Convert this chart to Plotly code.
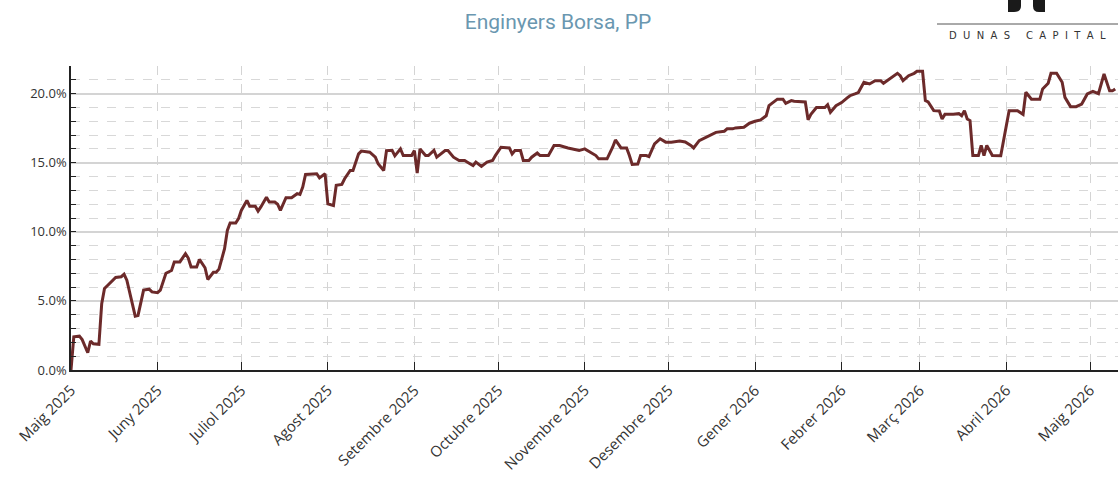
import plotly.graph_objects as go

dates = [
    "2025-05-01", "2025-05-02", "2025-05-04", "2025-05-05", "2025-05-07", "2025-05-08", "2025-05-09",
    "2025-05-11", "2025-05-12", "2025-05-13", "2025-05-14", "2025-05-17", "2025-05-19", "2025-05-20",
    "2025-05-21", "2025-05-23", "2025-05-24", "2025-05-25", "2025-05-27", "2025-05-29", "2025-05-30",
    "2025-06-01", "2025-06-02", "2025-06-04", "2025-06-06", "2025-06-07", "2025-06-09", "2025-06-11",
    "2025-06-12", "2025-06-13", "2025-06-15", "2025-06-16", "2025-06-18", "2025-06-19", "2025-06-21",
    "2025-06-22", "2025-06-23", "2025-06-25", "2025-06-26", "2025-06-27", "2025-06-29", "2025-06-30",
    "2025-07-01", "2025-07-03", "2025-07-04", "2025-07-06", "2025-07-07", "2025-07-08", "2025-07-10",
    "2025-07-11", "2025-07-13", "2025-07-14", "2025-07-15", "2025-07-17", "2025-07-19", "2025-07-21",
    "2025-07-22", "2025-07-23", "2025-07-24", "2025-07-28", "2025-07-29", "2025-07-31",
    "2025-08-01", "2025-08-03", "2025-08-04", "2025-08-06", "2025-08-07", "2025-08-09", "2025-08-10",
    "2025-08-12", "2025-08-13", "2025-08-16", "2025-08-18", "2025-08-19", "2025-08-21", "2025-08-22",
    "2025-08-24", "2025-08-25", "2025-08-27", "2025-08-28", "2025-08-31",
    "2025-09-01", "2025-09-02", "2025-09-03", "2025-09-05", "2025-09-06", "2025-09-08", "2025-09-09",
    "2025-09-12", "2025-09-13", "2025-09-15", "2025-09-17", "2025-09-19", "2025-09-20", "2025-09-22",
    "2025-09-23", "2025-09-25", "2025-09-27", "2025-09-29", "2025-09-30",
    "2025-10-02", "2025-10-05", "2025-10-06", "2025-10-07", "2025-10-09", "2025-10-10", "2025-10-12",
    "2025-10-13", "2025-10-15", "2025-10-16", "2025-10-19", "2025-10-21", "2025-10-23", "2025-10-26",
    "2025-10-28", "2025-10-30",
    "2025-11-01", "2025-11-03", "2025-11-05", "2025-11-06", "2025-11-09", "2025-11-11", "2025-11-12",
    "2025-11-14", "2025-11-16", "2025-11-17", "2025-11-18", "2025-11-20", "2025-11-21", "2025-11-23",
    "2025-11-24", "2025-11-26", "2025-11-28", "2025-11-30",
    "2025-12-02", "2025-12-05", "2025-12-07", "2025-12-09", "2025-12-10", "2025-12-12", "2025-12-14",
    "2025-12-16", "2025-12-18", "2025-12-21", "2025-12-22", "2025-12-24", "2025-12-25", "2025-12-28",
    "2025-12-30",
    "2026-01-01", "2026-01-03", "2026-01-05", "2026-01-06", "2026-01-09", "2026-01-11", "2026-01-12",
    "2026-01-14", "2026-01-15", "2026-01-18", "2026-01-19", "2026-01-20", "2026-01-21", "2026-01-23",
    "2026-01-26", "2026-01-27", "2026-01-28", "2026-01-30", "2026-01-31",
    "2026-02-01", "2026-02-03", "2026-02-04", "2026-02-06", "2026-02-07", "2026-02-09", "2026-02-11",
    "2026-02-13", "2026-02-15", "2026-02-16", "2026-02-18", "2026-02-21", "2026-02-22", "2026-02-23",
    "2026-02-25", "2026-02-27", "2026-02-28",
    "2026-03-02", "2026-03-03", "2026-03-04", "2026-03-06", "2026-03-08", "2026-03-09", "2026-03-10",
    "2026-03-13", "2026-03-15", "2026-03-16", "2026-03-17", "2026-03-18", "2026-03-19", "2026-03-20",
    "2026-03-22", "2026-03-23", "2026-03-24", "2026-03-25", "2026-03-27", "2026-03-30", "2026-03-31",
    "2026-04-02", "2026-04-05", "2026-04-07", "2026-04-08", "2026-04-10", "2026-04-13", "2026-04-14",
    "2026-04-16", "2026-04-17", "2026-04-19", "2026-04-21", "2026-04-22", "2026-04-24", "2026-04-26",
    "2026-04-28", "2026-04-30",
    "2026-05-02", "2026-05-04", "2026-05-06", "2026-05-08", "2026-05-09", "2026-05-10",
]

returns_pct = [
    0.0, 2.4, 2.45, 2.2, 1.25, 2.1, 1.9,
    1.85, 4.8, 5.9, 6.1, 6.7, 6.75, 6.93,
    6.5, 4.8, 3.9, 3.95, 5.78, 5.85, 5.65,
    5.6, 5.78, 7.0, 7.2, 7.82, 7.82, 8.42,
    8.1, 7.46, 7.46, 8.0, 7.4, 6.55, 7.07,
    7.07, 7.3, 8.78, 10.1, 10.64, 10.64, 10.95,
    11.55, 12.27, 11.85, 11.85, 11.5, 11.8, 12.5,
    12.15, 12.15, 12.0, 11.55, 12.47, 12.47, 12.76,
    12.7, 13.24, 14.15, 14.2, 13.9, 14.2,
    12.03, 11.9, 13.36, 13.43, 13.84, 14.44, 14.44,
    15.64, 15.84, 15.76, 15.4, 14.92, 14.44, 15.88,
    15.9, 15.5, 16.0, 15.52, 15.52,
    15.88, 14.25, 16.0, 15.52, 15.52, 15.9, 15.4,
    15.88, 15.88, 15.4, 15.16, 15.16, 15.04, 14.8,
    15.04, 14.73, 15.04, 15.16, 15.52,
    16.12, 16.07, 15.64, 15.88, 15.88, 15.16, 15.16,
    15.4, 15.7, 15.52, 15.52, 16.25, 16.25, 16.07,
    16.0, 15.88,
    16.0, 15.78, 15.52, 15.28, 15.28, 16.12, 16.65,
    16.07, 16.07, 15.52, 14.87, 14.9, 15.52, 15.52,
    15.45, 16.37, 16.73, 16.49,
    16.49, 16.57, 16.5, 16.25, 16.07, 16.6, 16.8,
    16.97, 17.2, 17.28, 17.45, 17.45, 17.52, 17.57,
    17.86,
    18.0, 18.1, 18.4, 19.13, 19.6, 19.6, 19.3,
    19.5, 19.45, 19.4, 19.4, 18.1, 18.5, 19.0,
    19.0, 19.2, 18.65, 19.13, 19.25,
    19.35, 19.69, 19.85, 20.0, 20.08, 20.82, 20.7,
    20.94, 20.94, 20.75, 21.06, 21.47, 21.3, 20.94,
    21.3, 21.47, 21.62,
    21.62, 19.5, 19.4, 18.77, 18.75, 18.17, 18.5,
    18.5, 18.55, 18.4, 18.77, 18.17, 18.05, 15.52,
    15.52, 16.25, 15.52, 16.25, 15.52, 15.5, 16.6,
    18.77, 18.77, 18.5, 20.1, 19.6, 19.6, 20.34,
    20.75, 21.47, 21.47, 20.82, 19.73, 19.06, 19.06,
    19.25, 19.98,
    20.17, 20.0, 21.42, 20.2, 20.2, 20.34,
]

month_ticks = [
    "2025-05-01", "2025-06-01", "2025-07-01", "2025-08-01", "2025-09-01", "2025-10-01",
    "2025-11-01", "2025-12-01", "2026-01-01", "2026-02-01", "2026-03-01", "2026-04-01", "2026-05-01",
]
month_labels = [
    "Maig 2025", "Juny 2025", "Juliol 2025", "Agost 2025", "Setembre 2025", "Octubre 2025",
    "Novembre 2025", "Desembre 2025", "Gener 2026", "Febrer 2026", "Març 2026", "Abril 2026", "Maig 2026",
]

title_text = "Enginyers Borsa, PP"

fig = go.Figure()
fig.add_trace(go.Scatter(
    x=dates, y=returns_pct, mode="lines",
    line=dict(color="#6c2a2a", width=3),
    hoverinfo="skip", showlegend=False,
))

fig.update_layout(
    width=1118, height=479,
    margin=dict(l=71, r=0, t=66, b=109),
    paper_bgcolor="white", plot_bgcolor="white",
    title=dict(text=title_text, x=558 / 1118, xref="container", xanchor="center",
               y=1 - 22 / 479, yanchor="middle", yref="container",
               font=dict(family="Roboto", size=21, color="#6a97b0")),
    xaxis=dict(
        type="date", range=["2025-05-01", "2026-05-11"],
        tickmode="array", tickvals=month_ticks, ticktext=month_labels,
        tickangle=-45, tickfont=dict(family="Open Sans", size=15, color="#333333"),
        ticklabelstandoff=4,
        ticks="inside", ticklen=8, tickcolor="#222222", tickwidth=1,
        showline=True, linecolor="#222222", linewidth=1.5,
        showgrid=True, gridcolor="#d4d4d4", griddash="dash", gridwidth=1,
        zeroline=False,
    ),
    yaxis=dict(
        range=[0, 22], tickmode="linear", tick0=0, dtick=5,
        tickformat=".1f", ticksuffix="%",
        tickfont=dict(family="Open Sans", size=13, color="#333333"),
        ticks="inside", ticklen=5, tickcolor="#222222",
        showline=True, linecolor="#222222", linewidth=1.5,
        showgrid=True, gridcolor="#d4d4d4", gridwidth=1.5,
        zeroline=False,
        minor=dict(dtick=1, tick0=0, showgrid=True, gridcolor="#d8d8d8", griddash="dash",
                   gridwidth=1, ticks="inside", ticklen=5, tickcolor="#222222"),
    ),
)

# Logo (Dunas Capital) drawn in the top-right header area
def px_to_paper(px, py):
    return (px - 71) / 1047, (370 - py) / 304

lx0, ly = px_to_paper(937, 24)
lx1, _ = px_to_paper(1118, 24)
fig.add_shape(type="line", xref="paper", yref="paper", x0=lx0, x1=lx1, y0=ly, y1=ly,
              line=dict(color="#555555", width=1))

a_x0, a_ytop = px_to_paper(1008, -2)
a_x1, a_ybot = px_to_paper(1021, 12)
a_xm, a_ymid = px_to_paper(1014, 6)
fig.add_shape(type="path", xref="paper", yref="paper",
              path=f"M {a_x0} {a_ytop} L {a_x1} {a_ytop} L {a_x1} {a_ymid} Q {a_x1} {a_ybot} {a_xm} {a_ybot} L {a_x0} {a_ybot} Z",
              fillcolor="#1a1a1a", line=dict(width=0))
b_x0, _ = px_to_paper(1033, 0)
b_x1, _ = px_to_paper(1045, 0)
b_xm, _ = px_to_paper(1039, 0)
fig.add_shape(type="path", xref="paper", yref="paper",
              path=f"M {b_x1} {a_ytop} L {b_x0} {a_ytop} L {b_x0} {a_ymid} Q {b_x0} {a_ybot} {b_xm} {a_ybot} L {b_x1} {a_ybot} Z",
              fillcolor="#1a1a1a", line=dict(width=0))

nb = "\u00a0"
logo_text = (nb * 2).join("DUNAS") + nb * 5 + (nb * 2).join("CAPITAL")
tx, ty = px_to_paper(1027, 35)
fig.add_annotation(text=logo_text, xref="paper", yref="paper", x=tx, y=ty,
                   xanchor="center", yanchor="middle", showarrow=False,
                   font=dict(family="DejaVu Sans", size=10, color="#333333"))

fig.write_html("out.html", config={"displayModeBar": False},
               post_script="document.body.style.margin='0';document.body.style.overflow='hidden';")
